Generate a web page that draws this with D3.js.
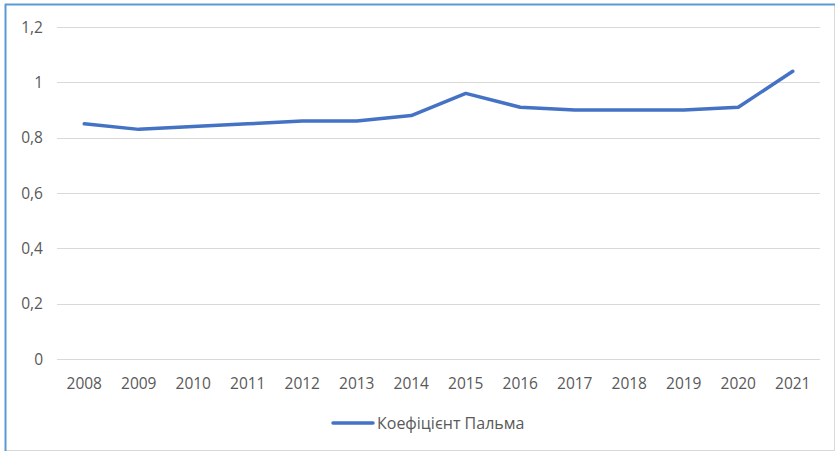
<!DOCTYPE html>
<html><head><meta charset="utf-8">
<script src="https://cdn.jsdelivr.net/npm/d3@7"></script>
<style>body{margin:0;background:#fff}svg{display:block}text{font-family:"Open Sans","Liberation Sans",sans-serif}</style>
</head><body>
<svg id="c" width="840" height="453"></svg>
<script>
const years = ["2008","2009","2010","2011","2012","2013","2014","2015","2016","2017","2018","2019","2020","2021"];
const palma = [0.85,0.83,0.84,0.85,0.86,0.86,0.88,0.96,0.91,0.90,0.90,0.90,0.91,1.04];
const yTicks = [0,0.2,0.4,0.6,0.8,1,1.2];
const seriesName = "Коефіцієнт Пальма";

const svg = d3.select("#c");
// frame
svg.append("rect").attr("x",5.5).attr("y",4.5).attr("width",829).attr("height",446)
  .attr("fill","#fff").attr("stroke","#d9d9d9");
svg.append("line").attr("x1",5.5).attr("x2",5.5).attr("y1",4).attr("y2",451).attr("stroke","#5b9bd5").attr("stroke-width",2);
svg.append("line").attr("x1",5).attr("x2",835).attr("y1",4.5).attr("y2",4.5).attr("stroke","#5b9bd5").attr("stroke-width",2);

const x = d3.scaleBand().domain(years).range([57,820]);
const y = d3.scaleLinear().domain([0,1.2]).range([359,27]);
const fmt = d => String(d).replace(".",",");

const gy = svg.append("g");
gy.selectAll("line").data(yTicks).join("line")
  .attr("x1",57).attr("x2",820).attr("y1",d=>Math.round(y(d))+0.5).attr("y2",d=>Math.round(y(d))+0.5)
  .attr("stroke","#d9d9d9").attr("stroke-width",1);
gy.selectAll("text").data(yTicks).join("text")
  .attr("x",43).attr("y",d=>y(d)+5.8).attr("text-anchor","end")
  .attr("font-size",15.5).attr("fill","#595959").text(fmt);

const xAxis = d3.axisBottom(x).tickSize(0).tickPadding(0);
const gx = svg.append("g").attr("transform","translate(0,388.5)").call(xAxis);
gx.select(".domain").remove();
gx.selectAll("text").attr("font-size",15.5).attr("fill","#595959").attr("dy",0).attr("y",0)
  .style("font-family",'"Open Sans","Liberation Sans",sans-serif');

const line = d3.line().x((d,i)=>x(years[i])+x.bandwidth()/2).y(d=>y(d));
svg.append("path").datum(palma).attr("d",line).attr("fill","none")
  .attr("stroke","#4472c4").attr("stroke-width",3.5).attr("stroke-linejoin","round").attr("stroke-linecap","round");

// legend
svg.append("line").attr("x1",333).attr("x2",373).attr("y1",423).attr("y2",423)
  .attr("stroke","#4472c4").attr("stroke-width",3.5).attr("stroke-linecap","round");
svg.append("text").attr("x",377).attr("y",428.5).attr("font-size",16)
  .attr("fill","#595959").text(seriesName);
</script>
</body></html>
